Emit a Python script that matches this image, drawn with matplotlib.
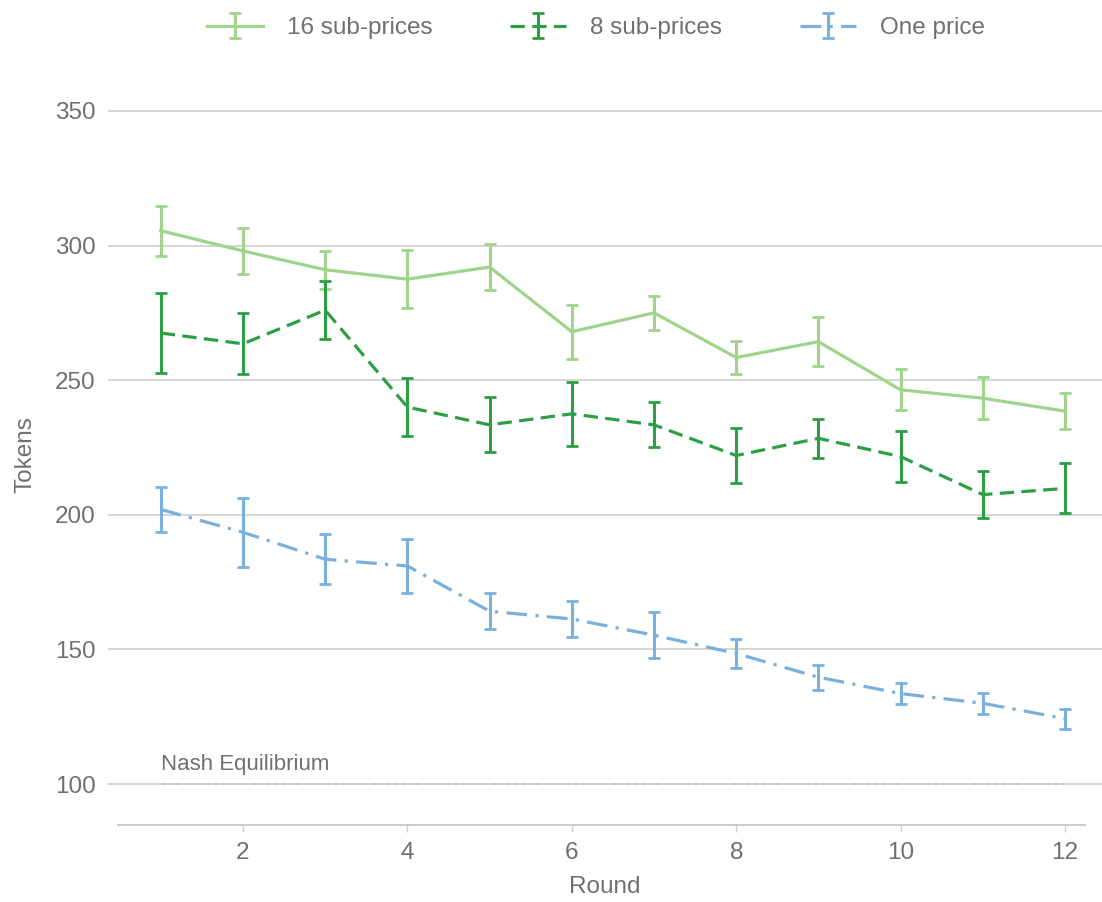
import matplotlib
matplotlib.use("Agg")
import matplotlib.pyplot as plt
import numpy as np

plt.rcParams['font.family'] = ['Liberation Sans', 'DejaVu Sans']

rounds = list(range(1, 13))
series_names = ["16 sub-prices", "8 sub-prices", "One price"]
sub16_mean = [305.5, 298, 291, 287.5, 292, 268, 275, 258.4, 264.3, 246.4, 243.3, 238.5]
sub16_err = [9.3, 8.5, 7, 10.7, 8.5, 10, 6.2, 6.2, 9, 7.6, 7.7, 6.7]
sub8_mean = [267.5, 263.5, 276, 240, 233.4, 237.5, 233.4, 222, 228.4, 221.6, 207.5, 209.8]
sub8_err = [15, 11.3, 10.8, 10.7, 10.2, 11.8, 8.4, 10.3, 7.3, 9.5, 8.7, 9.3]
one_mean = [202, 193.5, 183.5, 181, 164.2, 161.3, 155.3, 148.5, 139.7, 133.6, 130, 124.3]
one_err = [8.5, 12.9, 9.3, 9.9, 6.7, 6.6, 8.5, 5.5, 4.7, 4, 4, 3.7]
nash_value = 100
nash_label = "Nash Equilibrium"
yticks = [100, 150, 200, 250, 300, 350]
xticks = [2, 4, 6, 8, 10, 12]

W, H = 1102, 902
fig = plt.figure(figsize=(W / 100, H / 100), dpi=100)
ax = fig.add_axes([108 / W, 1 - 825 / H, (1102 - 108) / W, (825 - 88) / H])

grey_text = "#707070"
fs = 17.5
ax.set_xlim(0.358, 12.45)
ax.set_ylim(84.8, 358.5)
ax.set_yticks(yticks)
ax.set_xticks(xticks)
ax.yaxis.grid(True, color="#d0d0d0", lw=1.2)
ax.set_axisbelow(True)
for s in ["left", "right", "top"]:
    ax.spines[s].set_visible(False)
ax.spines["bottom"].set_color("#cccccc")
ax.spines["bottom"].set_linewidth(1.5)
ax.spines["bottom"].set_bounds(0.48, 12.24)
ax.tick_params(axis="y", length=0, pad=9, labelsize=fs, labelcolor=grey_text)
ax.tick_params(axis="x", length=5, width=1, color="#cccccc", pad=7, labelsize=fs, labelcolor=grey_text)

ax.plot([1, 12], [nash_value, nash_value], color="#c4c4c4", lw=1.2, ls=(0, (3, 1.5)), zorder=1.5)
ax.text(1, nash_value + 3.5, nash_label, fontsize=16, color=grey_text, ha="left", va="bottom")

specs = [
    (sub16_mean, sub16_err, "#9fd48c", "-"),
    (sub8_mean, sub8_err, "#2c9f45", (0, (4.5, 2.3))),
    (one_mean, one_err, "#79b0de", (0, (6.5, 2.6, 1, 2.6))),
]
handles = []
for (m, e, c, ls), name in zip(specs, series_names):
    h = ax.errorbar(rounds, m, yerr=e, color=c, lw=2.3, elinewidth=2.2, capsize=4.6,
                    capthick=2.0, label=name, zorder=3)
    h.lines[0].set_linestyle(ls)
    handles.append(h)

leg = fig.legend(handles=handles, labels=series_names, loc="center", ncol=3,
                 bbox_to_anchor=(596 / W, 1 - 28 / H), frameon=False, fontsize=fs,
                 handlelength=2.3, columnspacing=3.2, handletextpad=1.0)
for t in leg.get_texts():
    t.set_color(grey_text)

ax.set_xlabel("Round", fontsize=fs, color=grey_text)
ax.xaxis.set_label_coords(0.5, -(887 - 825) / (825 - 88))
ax.xaxis.label.set_va("center")
ax.set_ylabel("Tokens", fontsize=fs, color=grey_text)
ax.yaxis.set_label_coords(-(108 - 25) / (1102 - 108), (825 - 455) / (825 - 88))
ax.yaxis.label.set_va("center")

fig.savefig("out.png", dpi=100)
